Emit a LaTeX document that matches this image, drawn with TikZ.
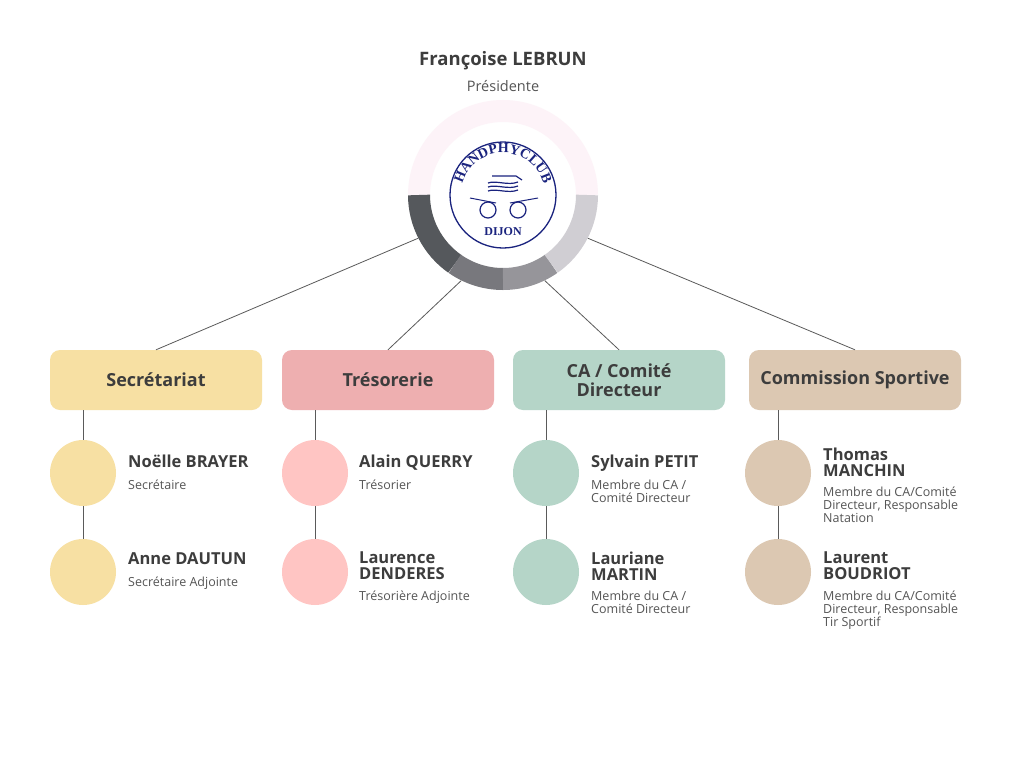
\documentclass[tikz,border=0pt]{standalone}
\usepackage{fontspec}
\setmainfont{Open Sans}
\newfontfamily\logofont{Liberation Serif}
\usetikzlibrary{positioning,calc,decorations.text}
\definecolor{txt}{HTML}{3D3D3D}
\definecolor{sub}{HTML}{555555}
\definecolor{linec}{HTML}{5A5A5A}
\definecolor{logob}{HTML}{1A237E}
\definecolor{yelbox}{HTML}{F7E0A3}
\definecolor{pinkbox}{HTML}{EEAFB0}
\definecolor{greenbox}{HTML}{B5D5C8}
\definecolor{tanbox}{HTML}{DCC8B2}
\definecolor{pinkdot}{HTML}{FFC5C3}
\tikzset{
  pole/.style={draw=none, rounded corners=10pt, minimum width=212pt, minimum height=60pt,
    align=center, text=txt, font=\fontsize{18}{19}\selectfont\bfseries},
  dot/.style={circle, minimum size=66pt, inner sep=0pt},
  who/.style={anchor=north west, align=left, inner sep=0pt, text=txt,
    font=\fontsize{16.5}{16}\selectfont\bfseries},
  role/.style={anchor=north west, align=left, inner sep=0pt, text=sub,
    font=\fontsize{12.5}{13}\selectfont},
  link/.style={draw=linec, line width=0.8pt}
}
\begin{document}
\begin{tikzpicture}[x=1pt,y=-1pt]
  \useasboundingbox[fill=white] (0,0) rectangle (1024,768);

  % head
  \node[text=txt, font=\fontsize{18.5}{19}\selectfont\bfseries] (pres) at (503,61) {Françoise LEBRUN};
  \node[text=sub, font=\fontsize{14.5}{15}\selectfont] (presrole) at (503,86) {Présidente};

  % ring around the logo
  \draw[line width=22pt, color={rgb,255:red,253;green,243;blue,248}] (503,195) ++(180:84) arc[start angle=180, end angle=360, radius=84];
  \draw[line width=22pt, color={rgb,255:red,85;green,88;blue,92}] (503,195) ++(125:84) arc[start angle=125, end angle=180, radius=84];
  \draw[line width=22pt, color={rgb,255:red,120;green,120;blue,125}] (503,195) ++(90:84) arc[start angle=90, end angle=125, radius=84];
  \draw[line width=22pt, color={rgb,255:red,150;green,149;blue,154}] (503,195) ++(55:84) arc[start angle=55, end angle=90, radius=84];
  \draw[line width=22pt, color={rgb,255:red,208;green,206;blue,211}] (503,195) ++(0:84) arc[start angle=0, end angle=55, radius=84];
  \node[circle, minimum size=190pt, inner sep=0pt] (ring) at (503,195) {};

  % logo
  \node[circle, draw=logob, line width=1.3pt, fill=white, minimum size=106pt, inner sep=0pt] (logo) at (503,195) {};
  \path[decorate, decoration={text along path, text align=center,
    text={|\logofont\fontsize{14}{14}\selectfont\bfseries\color{logob}|HANDPHYCLUB}}]
    (503,195) ++(165:42) arc[start angle=165, end angle=375, radius=42];
  \node[text=logob, font=\logofont\fontsize{12}{12}\selectfont\bfseries] (dijon) at (503,232) {DIJON};
  \foreach \dy in {0,4,8}
    \draw[logob, line width=1.2pt] (488,183+\dy) .. controls (496,180+\dy) and (508,186+\dy) .. (518,182+\dy);
  \draw[logob, line width=1.2pt] (492,176) -- (516,176) -- (522,180);
  \draw[logob, line width=1.2pt] (488,210) circle (8pt) (518,210) circle (8pt);
  \draw[logob, line width=1pt] (470,198) -- (496,203) (510,203) -- (538,198);

  % poles
  \node[pole, fill=yelbox] (sec) at (156,380) {Secrétariat};
  \node[pole, fill=pinkbox] (tres) at (388,380) {Trésorerie};
  \node[pole, fill=greenbox] (ca) at (619,380) {CA / Comité\\Directeur};
  \node[pole, fill=tanbox] (com) at (855,380) {Commission Sportive};

  \draw[link] (ring.207) -- (sec.north);
  \draw[link] (ring.244) -- (tres.north);
  \draw[link] (ring.296) -- (ca.north);
  \draw[link] (ring.333) -- (com.north);

  % people
  \node[dot, fill=yelbox] (s1) at (83,473) {};
  \node[dot, fill=yelbox] (s2) at (83,572) {};
  \node[dot, fill=pinkdot] (t1) at (315,473) {};
  \node[dot, fill=pinkdot] (t2) at (315,572) {};
  \node[dot, fill=greenbox] (c1) at (546,473) {};
  \node[dot, fill=greenbox] (c2) at (546,572) {};
  \node[dot, fill=tanbox] (m1) at (778,473) {};
  \node[dot, fill=tanbox] (m2) at (778,572) {};

  \foreach \p/\a/\b in {sec/s1/s2, tres/t1/t2, ca/c1/c2, com/m1/m2} {
    \draw[link] (\p.south -| \a.north) -- (\a.north);
    \draw[link] (\a.south) -- (\b.north);
  }

  \node[who] (s1n) at (128,455) {Noëlle BRAYER};
  \node[role] (s1r) at (128,480) {Secrétaire};
  \node[who] (s2n) at (128,552) {Anne DAUTUN};
  \node[role] (s2r) at (128,577) {Secrétaire Adjointe};

  \node[who] (t1n) at (359,455) {Alain QUERRY};
  \node[role] (t1r) at (359,480) {Trésorier};
  \node[who] (t2n) at (359,552) {Laurence\\DENDERES};
  \node[role] (t2r) at (359,591) {Trésorière Adjointe};

  \node[who] (c1n) at (591,455) {Sylvain PETIT};
  \node[role] (c1r) at (591,480) {Membre du CA /\\Comité Directeur};
  \node[who] (c2n) at (591,552) {Lauriane\\MARTIN};
  \node[role] (c2r) at (591,591) {Membre du CA /\\Comité Directeur};

  \node[who] (m1n) at (823,448) {Thomas\\MANCHIN};
  \node[role] (m1r) at (823,487) {Membre du CA/Comité\\Directeur, Responsable\\Natation};
  \node[who] (m2n) at (823,552) {Laurent\\BOUDRIOT};
  \node[role] (m2r) at (823,591) {Membre du CA/Comité\\Directeur, Responsable\\Tir Sportif};
\end{tikzpicture}
\end{document}
